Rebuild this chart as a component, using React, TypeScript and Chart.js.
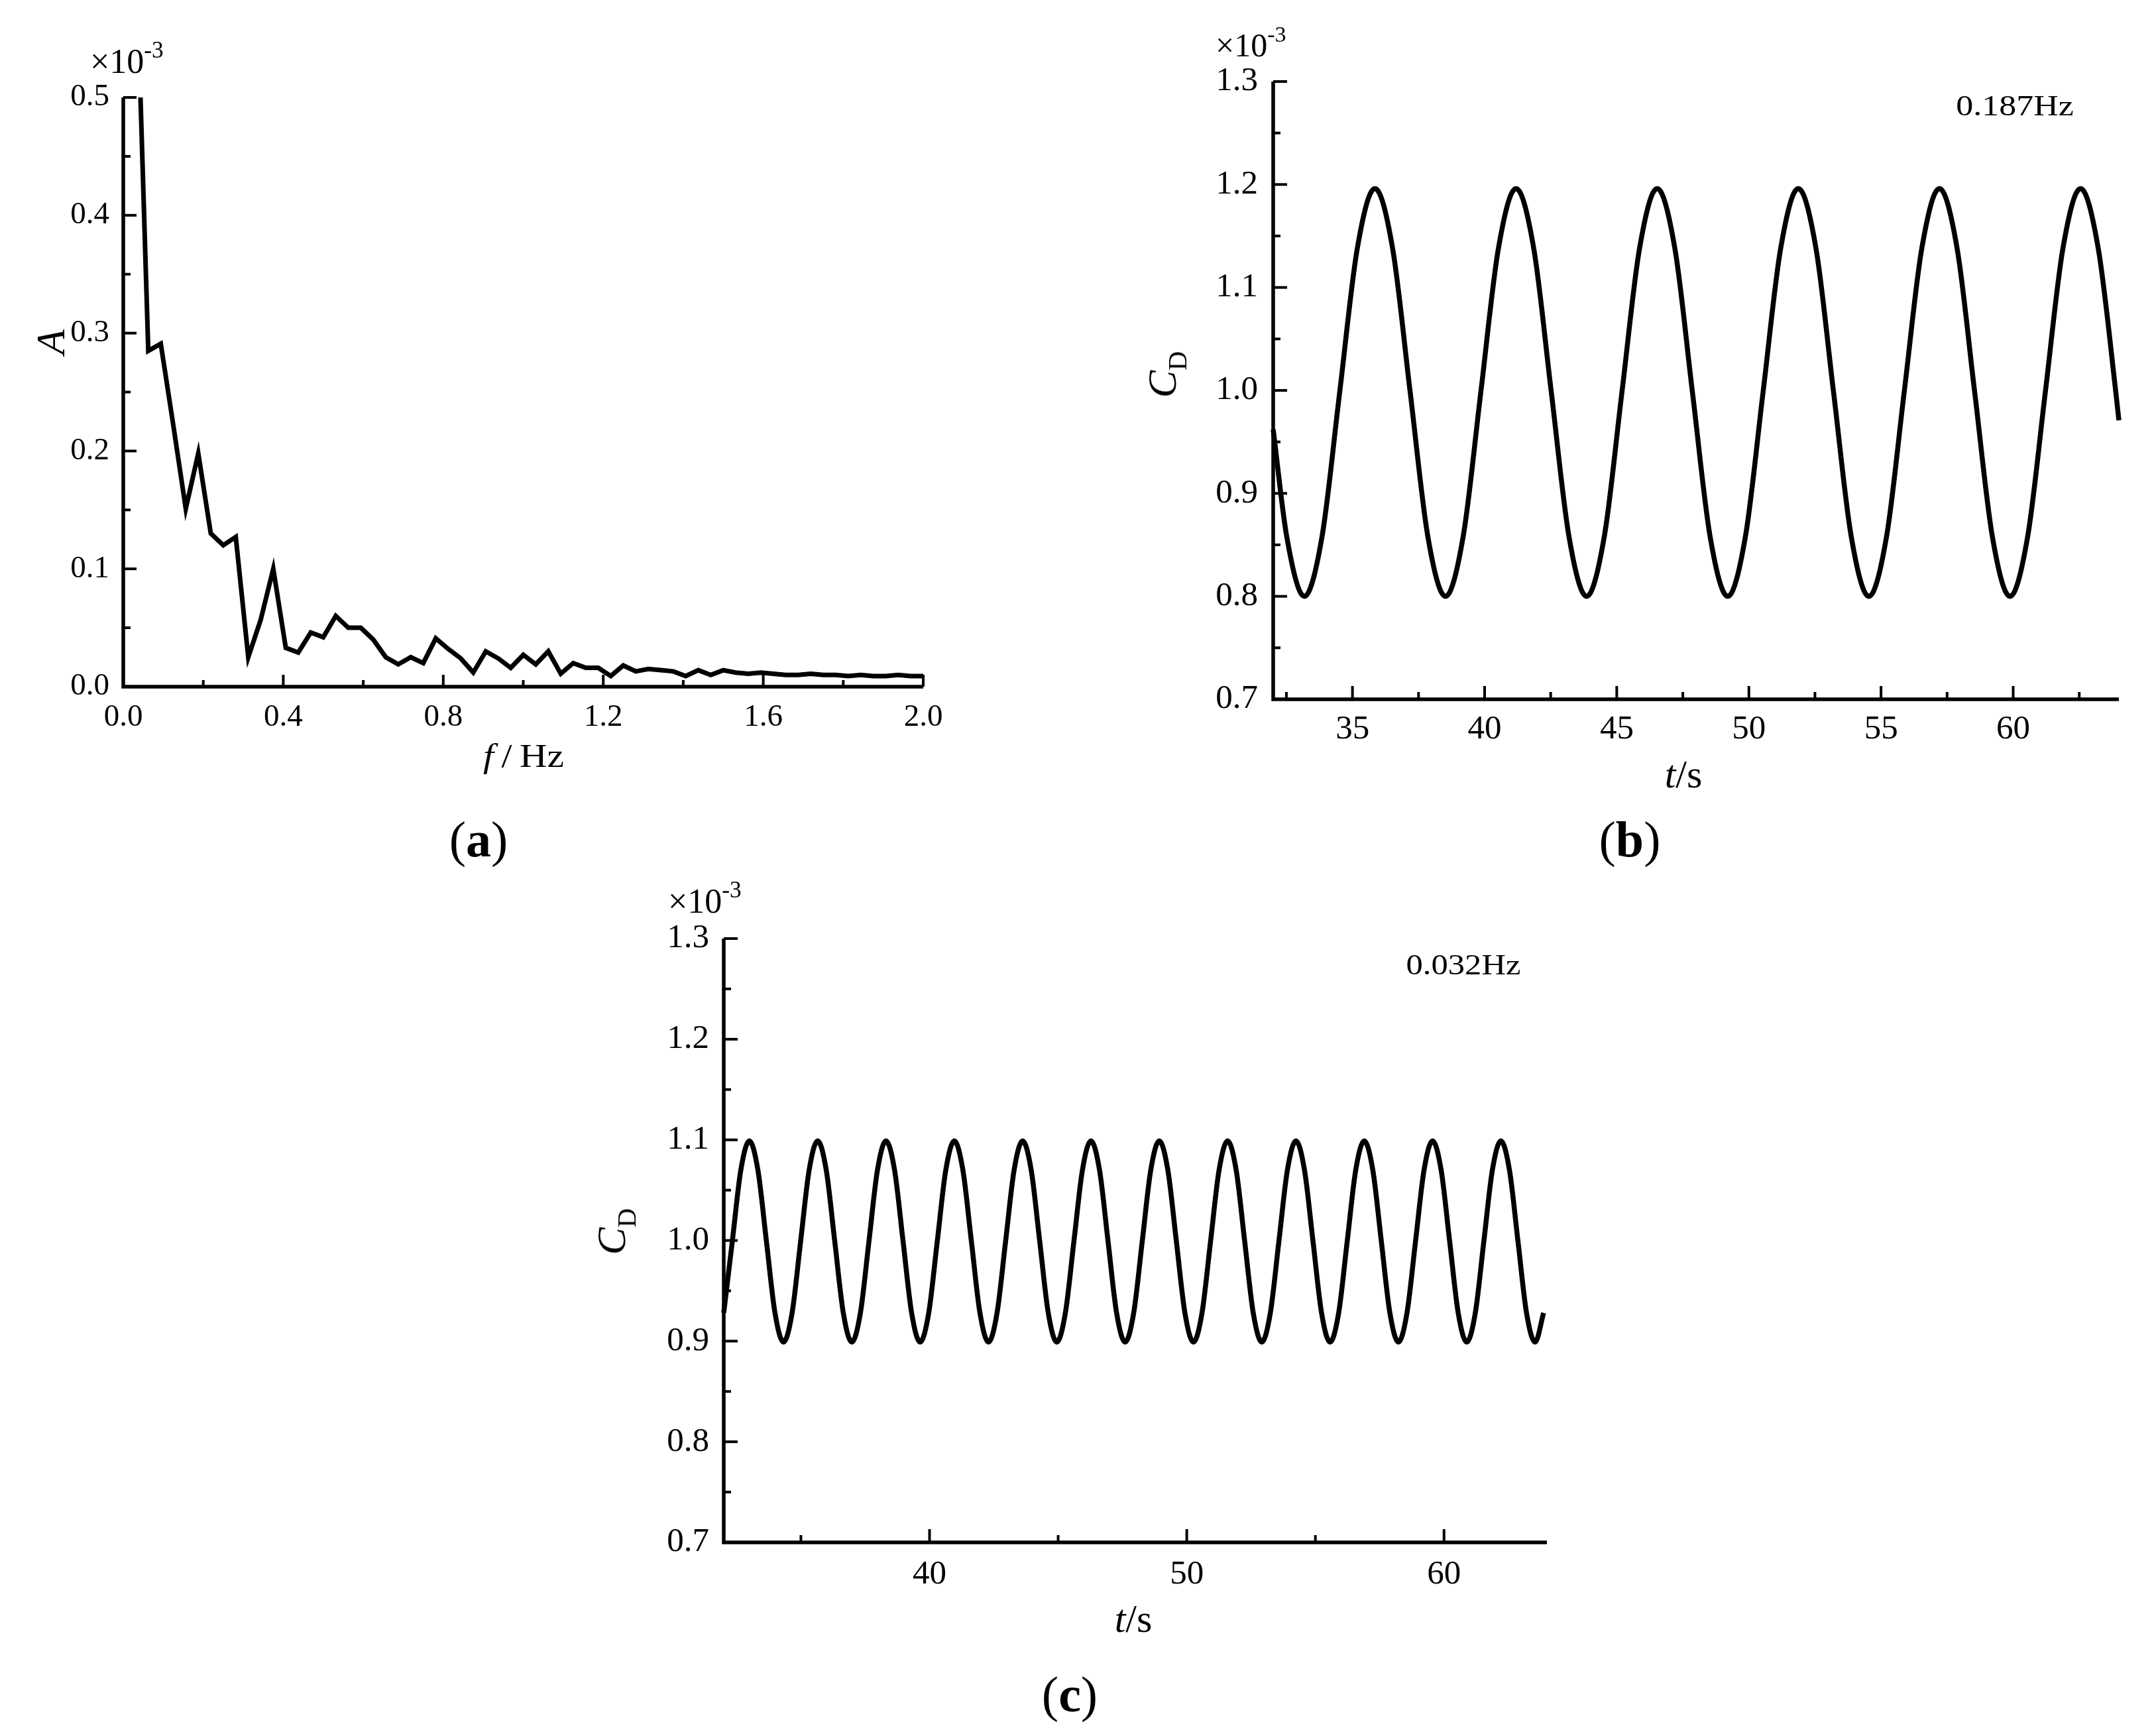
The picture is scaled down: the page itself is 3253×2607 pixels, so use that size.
import React, { useEffect, useRef } from "react";
import { Chart, registerables } from "chart.js";

Chart.register(...registerables);

const SERIF = "'Liberation Serif', 'Times New Roman', serif";

// ---------------- Panel (a): amplitude spectrum ----------------
const freqA: number[] = [
  0.03125, 0.0625, 0.09375, 0.125, 0.15625, 0.1875, 0.21875, 0.25,
  0.28125, 0.3125, 0.34375, 0.375, 0.40625, 0.4375, 0.46875, 0.5,
  0.53125, 0.5625, 0.59375, 0.625, 0.65625, 0.6875, 0.71875, 0.75,
  0.78125, 0.8125, 0.84375, 0.875, 0.90625, 0.9375, 0.96875, 1.0,
  1.03125, 1.0625, 1.09375, 1.125, 1.15625, 1.1875, 1.21875, 1.25,
  1.28125, 1.3125, 1.34375, 1.375, 1.40625, 1.4375, 1.46875, 1.5,
  1.53125, 1.5625, 1.59375, 1.625, 1.65625, 1.6875, 1.71875, 1.75,
  1.78125, 1.8125, 1.84375, 1.875, 1.90625, 1.9375, 1.96875, 2.0,
];
const ampA: number[] = [
  0.63, 0.285, 0.291, 0.222, 0.151, 0.198, 0.130, 0.120,
  0.127, 0.025, 0.057, 0.100, 0.033, 0.029, 0.046, 0.042,
  0.060, 0.050, 0.050, 0.040, 0.025, 0.019, 0.025, 0.020,
  0.041, 0.032, 0.024, 0.012, 0.030, 0.024, 0.016, 0.027,
  0.019, 0.030, 0.011, 0.020, 0.016, 0.016, 0.009, 0.018,
  0.013, 0.015, 0.014, 0.013, 0.009, 0.014, 0.010, 0.014,
  0.012, 0.011, 0.012, 0.011, 0.010, 0.010, 0.011, 0.010,
  0.010, 0.009, 0.010, 0.009, 0.009, 0.010, 0.009, 0.009,
];
const aXLabels: number[] = [0, 0.4, 0.8, 1.2, 1.6, 2.0];
const aXMinor: number[] = [0.2, 0.6, 1.0, 1.4, 1.8];
const aYLabels: number[] = [0, 0.1, 0.2, 0.3, 0.4, 0.5];
const aYMinor: number[] = [0.05, 0.15, 0.25, 0.35, 0.45];

// ---------------- Panel (b): C_D time history ----------------
const timeB: number[] = [
  32.0, 32.513, 33.18, 33.848, 34.515, 35.183,
  35.85, 36.518, 37.185, 37.853, 38.52, 39.188, 39.855, 40.523,
  41.19, 41.858, 42.525, 43.193, 43.86, 44.528, 45.195, 45.863,
  46.53, 47.198, 47.865, 48.533, 49.2, 49.868, 50.535, 51.203,
  51.87, 52.538, 53.205, 53.873, 54.54, 55.208, 55.875, 56.543,
  57.21, 57.878, 58.545, 59.213, 59.88, 60.548, 61.215, 61.883,
  62.55, 63.218, 63.885, 64.0,
];
const cdB: number[] = [
  0.962, 0.858, 0.8, 0.858, 0.998, 1.138,
  1.196, 1.138, 0.998, 0.858, 0.8, 0.858, 0.998, 1.138,
  1.196, 1.138, 0.998, 0.858, 0.8, 0.858, 0.998, 1.138,
  1.196, 1.138, 0.998, 0.858, 0.8, 0.858, 0.998, 1.138,
  1.196, 1.138, 0.998, 0.858, 0.8, 0.858, 0.998, 1.138,
  1.196, 1.138, 0.998, 0.858, 0.8, 0.858, 0.998, 1.138,
  1.196, 1.138, 0.998, 0.971,
];
const bXLabels: number[] = [35, 40, 45, 50, 55, 60];
const bXMinor: number[] = [32.5, 37.5, 42.5, 47.5, 52.5, 57.5, 62.5];
const cdYLabels: number[] = [0.7, 0.8, 0.9, 1.0, 1.1, 1.2, 1.3];
const cdYMinor: number[] = [0.75, 0.85, 0.95, 1.05, 1.15, 1.25];

// ---------------- Panel (c): C_D time history ----------------
const timeC: number[] = [
  32.0, 32.332, 32.664, 32.996, 33.328, 33.66, 33.992, 34.324,
  34.656, 34.988, 35.32, 35.652, 35.984, 36.316, 36.648, 36.98,
  37.312, 37.644, 37.976, 38.308, 38.64, 38.972, 39.304, 39.636,
  39.968, 40.3, 40.632, 40.964, 41.296, 41.628, 41.96, 42.292,
  42.624, 42.956, 43.288, 43.62, 43.952, 44.284, 44.616, 44.948,
  45.28, 45.612, 45.944, 46.276, 46.608, 46.94, 47.272, 47.604,
  47.936, 48.268, 48.6, 48.932, 49.264, 49.596, 49.928, 50.26,
  50.592, 50.924, 51.256, 51.588, 51.92, 52.252, 52.584, 52.916,
  53.248, 53.58, 53.912, 54.244, 54.576, 54.908, 55.24, 55.572,
  55.904, 56.236, 56.568, 56.9, 57.232, 57.564, 57.896, 58.228,
  58.56, 58.892, 59.224, 59.556, 59.888, 60.22, 60.552, 60.884,
  61.216, 61.548, 61.88, 62.212, 62.544, 62.876, 63.208, 63.54,
  63.872,
];
const cdC: number[] = [
  0.928, 0.999, 1.07, 1.099, 1.07, 0.999, 0.928, 0.899,
  0.928, 0.999, 1.07, 1.099, 1.07, 0.999, 0.928, 0.899,
  0.928, 0.999, 1.07, 1.099, 1.07, 0.999, 0.928, 0.899,
  0.928, 0.999, 1.07, 1.099, 1.07, 0.999, 0.928, 0.899,
  0.928, 0.999, 1.07, 1.099, 1.07, 0.999, 0.928, 0.899,
  0.928, 0.999, 1.07, 1.099, 1.07, 0.999, 0.928, 0.899,
  0.928, 0.999, 1.07, 1.099, 1.07, 0.999, 0.928, 0.899,
  0.928, 0.999, 1.07, 1.099, 1.07, 0.999, 0.928, 0.899,
  0.928, 0.999, 1.07, 1.099, 1.07, 0.999, 0.928, 0.899,
  0.928, 0.999, 1.07, 1.099, 1.07, 0.999, 0.928, 0.899,
  0.928, 0.999, 1.07, 1.099, 1.07, 0.999, 0.928, 0.899,
  0.928, 0.999, 1.07, 1.099, 1.07, 0.999, 0.928, 0.899,
  0.928,
];
const cXLabels: number[] = [40, 50, 60];
const cXMinor: number[] = [35, 45, 55];

// ---------------- helpers ----------------
type AxesCfg = {
  xMajor: number[]; xMinor: number[]; yMajor: number[]; yMinor: number[];
  xMajorLen: number; xMinorLen: number; yMajorLen: number; yMinorLen: number;
  tickWidth: number; axisWidth: number;
};

function makeAxesPlugin(c: AxesCfg) {
  return {
    id: "inwardAxes",
    afterDatasetsDraw(chart: any) {
      const { ctx, chartArea: a } = chart;
      const xs = chart.scales.x;
      const ys = chart.scales.y;
      ctx.save();
      ctx.strokeStyle = "#000";
      ctx.lineCap = "butt";
      ctx.lineWidth = c.tickWidth;
      const seg = (x1: number, y1: number, x2: number, y2: number) => {
        ctx.beginPath();
        ctx.moveTo(x1, y1);
        ctx.lineTo(x2, y2);
        ctx.stroke();
      };
      c.xMajor.forEach((v) => { const p = xs.getPixelForValue(v); seg(p, a.bottom, p, a.bottom - c.xMajorLen); });
      c.xMinor.forEach((v) => { const p = xs.getPixelForValue(v); seg(p, a.bottom, p, a.bottom - c.xMinorLen); });
      c.yMajor.forEach((v) => { const p = ys.getPixelForValue(v); seg(a.left, p, a.left + c.yMajorLen, p); });
      c.yMinor.forEach((v) => { const p = ys.getPixelForValue(v); seg(a.left, p, a.left + c.yMinorLen, p); });
      ctx.lineWidth = c.axisWidth;
      ctx.lineJoin = "miter";
      ctx.beginPath();
      ctx.moveTo(a.left, a.top);
      ctx.lineTo(a.left, a.bottom);
      ctx.lineTo(a.right, a.bottom);
      ctx.stroke();
      ctx.restore();
    },
  };
}

type PanelDef = {
  xs: number[]; ys: number[];
  xMin: number; xMax: number; yMin: number; yMax: number;
  xLabels: number[]; yLabels: number[];
  xFmt: (v: number) => string; yFmt: (v: number) => string;
  yWidth: number; xHeight: number;
  padTop: number; padRight: number;
  tickFont: number; xPad: number; yPad: number;
  lineWidth: number; smooth: boolean; clipTop: number | false;
  axes: AxesCfg;
};

function buildConfig(p: PanelDef): any {
  return {
    type: "line",
    data: {
      datasets: [
        {
          data: p.xs.map((x, i) => ({ x, y: p.ys[i] })),
          borderColor: "#000",
          backgroundColor: "#000",
          borderWidth: p.lineWidth,
          pointRadius: 0,
          fill: false,
          tension: 0,
          cubicInterpolationMode: p.smooth ? "monotone" : "default",
          clip: { left: 8, right: 8, bottom: 8, top: p.clipTop },
        },
      ],
    },
    options: {
      responsive: false,
      maintainAspectRatio: false,
      animation: false,
      events: [],
      layout: { padding: { left: 0, top: p.padTop, right: p.padRight, bottom: 0 } },
      plugins: { legend: { display: false }, tooltip: { enabled: false }, title: { display: false } },
      scales: {
        x: {
          type: "linear",
          min: p.xMin,
          max: p.xMax,
          grid: { display: false, drawTicks: false },
          border: { display: false },
          afterBuildTicks: (s: any) => { s.ticks = p.xLabels.map((v) => ({ value: v })); },
          afterFit: (s: any) => { s.height = p.xHeight; },
          ticks: {
            autoSkip: false,
            maxRotation: 0,
            padding: p.xPad,
            color: "#000",
            font: { family: SERIF, size: p.tickFont },
            callback: (v: any) => p.xFmt(Number(v)),
          },
        },
        y: {
          type: "linear",
          min: p.yMin,
          max: p.yMax,
          grid: { display: false, drawTicks: false },
          border: { display: false },
          afterBuildTicks: (s: any) => { s.ticks = p.yLabels.map((v) => ({ value: v })); },
          afterFit: (s: any) => { s.width = p.yWidth; },
          ticks: {
            autoSkip: false,
            padding: p.yPad,
            color: "#000",
            font: { family: SERIF, size: p.tickFont },
            callback: (v: any) => p.yFmt(Number(v)),
          },
        },
      },
    },
    plugins: [makeAxesPlugin(p.axes)],
  };
}

function ChartCanvas({ def, left, top, width, height }: { def: PanelDef; left: number; top: number; width: number; height: number }) {
  const ref = useRef<HTMLCanvasElement | null>(null);
  useEffect(() => {
    if (!ref.current) return;
    const chart = new Chart(ref.current, buildConfig(def));
    return () => chart.destroy();
  }, []);
  return (
    <canvas
      ref={ref}
      width={width}
      height={height}
      style={{ position: "absolute", left, top, width, height }}
    />
  );
}

function Txt({ x, y, size, rotate = false, sx = 1, anchor = "center", children }: any) {
  const tr = anchor === "center" ? "translate(-50%,-50%)" : "translate(0,-50%)";
  return (
    <div
      style={{
        position: "absolute",
        left: x,
        top: y,
        transform: `${tr}${rotate ? " rotate(-90deg)" : ""}${sx !== 1 ? ` scaleX(${sx})` : ""}`,
        transformOrigin: anchor === "center" ? "center" : "left center",
        fontFamily: SERIF,
        fontSize: size,
        lineHeight: 1,
        whiteSpace: "nowrap",
        color: "#000",
      }}
    >
      {children}
    </div>
  );
}

const Sup = ({ children }: any) => (
  <span style={{ fontSize: "0.68em", position: "relative", top: "-0.65em" }}>{children}</span>
);
const Sub = ({ children }: any) => (
  <span style={{ fontSize: "0.65em", position: "relative", top: "0.4em" }}>{children}</span>
);

const fmt1 = (v: number) => v.toFixed(1);
const fmt0 = (v: number) => v.toFixed(0);

const panelA: PanelDef = {
  xs: freqA, ys: ampA, xMin: 0, xMax: 2, yMin: 0, yMax: 0.5,
  xLabels: aXLabels, yLabels: aYLabels, xFmt: fmt1, yFmt: fmt1,
  yWidth: 186, xHeight: 74, padTop: 147, padRight: 57,
  tickFont: 47, xPad: 18, yPad: 21, lineWidth: 7, smooth: false, clipTop: 0,
  axes: {
    xMajor: aXLabels, xMinor: aXMinor, yMajor: aYLabels, yMinor: aYMinor,
    xMajorLen: 18, xMinorLen: 10, yMajorLen: 20, yMinorLen: 11, tickWidth: 4, axisWidth: 5.5,
  },
};

const panelB: PanelDef = {
  xs: timeB, ys: cdB, xMin: 32, xMax: 64, yMin: 0.7, yMax: 1.3,
  xLabels: bXLabels, yLabels: cdYLabels, xFmt: fmt0, yFmt: fmt1,
  yWidth: 171, xHeight: 65, padTop: 123, padRight: 56,
  tickFont: 51, xPad: 15, yPad: 23, lineWidth: 7.5, smooth: true, clipTop: 8,
  axes: {
    xMajor: bXLabels, xMinor: bXMinor, yMajor: cdYLabels, yMinor: cdYMinor,
    xMajorLen: 20, xMinorLen: 11, yMajorLen: 21, yMinorLen: 11, tickWidth: 4, axisWidth: 5.5,
  },
};

const panelC: PanelDef = {
  xs: timeC, ys: cdC, xMin: 32, xMax: 64, yMin: 0.7, yMax: 1.3,
  xLabels: cXLabels, yLabels: cdYLabels, xFmt: fmt0, yFmt: fmt1,
  yWidth: 192, xHeight: 93, padTop: 86, padRight: 66,
  tickFont: 51, xPad: 18, yPad: 22, lineWidth: 7.5, smooth: true, clipTop: 8,
  axes: {
    xMajor: cXLabels, xMinor: cXMinor, yMajor: cdYLabels, yMinor: cdYMinor,
    xMajorLen: 20, xMinorLen: 11, yMajorLen: 21, yMinorLen: 11, tickWidth: 4, axisWidth: 5.5,
  },
};

export default function App() {
  return (
    <div
      style={{
        position: "absolute",
        left: 0,
        top: 0,
        width: 3253,
        height: 2607,
        background: "#fff",
        overflow: "hidden",
      }}
    >
      <ChartCanvas def={panelA} left={0} top={0} width={1450} height={1110} />
      <ChartCanvas def={panelB} left={1750} top={0} width={1503} height={1120} />
      <ChartCanvas def={panelC} left={900} top={1330} width={1500} height={1090} />

      {/* Panel (a) texts */}
      <Txt x={136} y={93} size={52} anchor="left">×10<Sup>-3</Sup></Txt>
      <Txt x={76} y={516} size={62} rotate><i>A</i></Txt>
      <Txt x={790} y={1140} size={50} sx={1.15}><i>f</i>{"\u2009/\u2009"}Hz</Txt>
      <Txt x={722} y={1266} size={76}>(<b>a</b>)</Txt>

      {/* Panel (b) texts */}
      <Txt x={1834} y={68} size={50} anchor="left">×10<Sup>-3</Sup></Txt>
      <Txt x={1753} y={565} size={62} rotate><i>C</i><Sub>D</Sub></Txt>
      <Txt x={2540} y={1168} size={60}><i>t</i>/s</Txt>
      <Txt x={3040} y={160} size={44} sx={1.18}>0.187Hz</Txt>
      <Txt x={2459} y={1266} size={76}>(<b>b</b>)</Txt>

      {/* Panel (c) texts */}
      <Txt x={1008} y={1360} size={52} anchor="left">×10<Sup>-3</Sup></Txt>
      <Txt x={922} y={1858} size={62} rotate><i>C</i><Sub>D</Sub></Txt>
      <Txt x={1710} y={2442} size={60}><i>t</i>/s</Txt>
      <Txt x={2208} y={1456} size={44} sx={1.15}>0.032Hz</Txt>
      <Txt x={1614} y={2556} size={76}>(<b>c</b>)</Txt>
    </div>
  );
}
